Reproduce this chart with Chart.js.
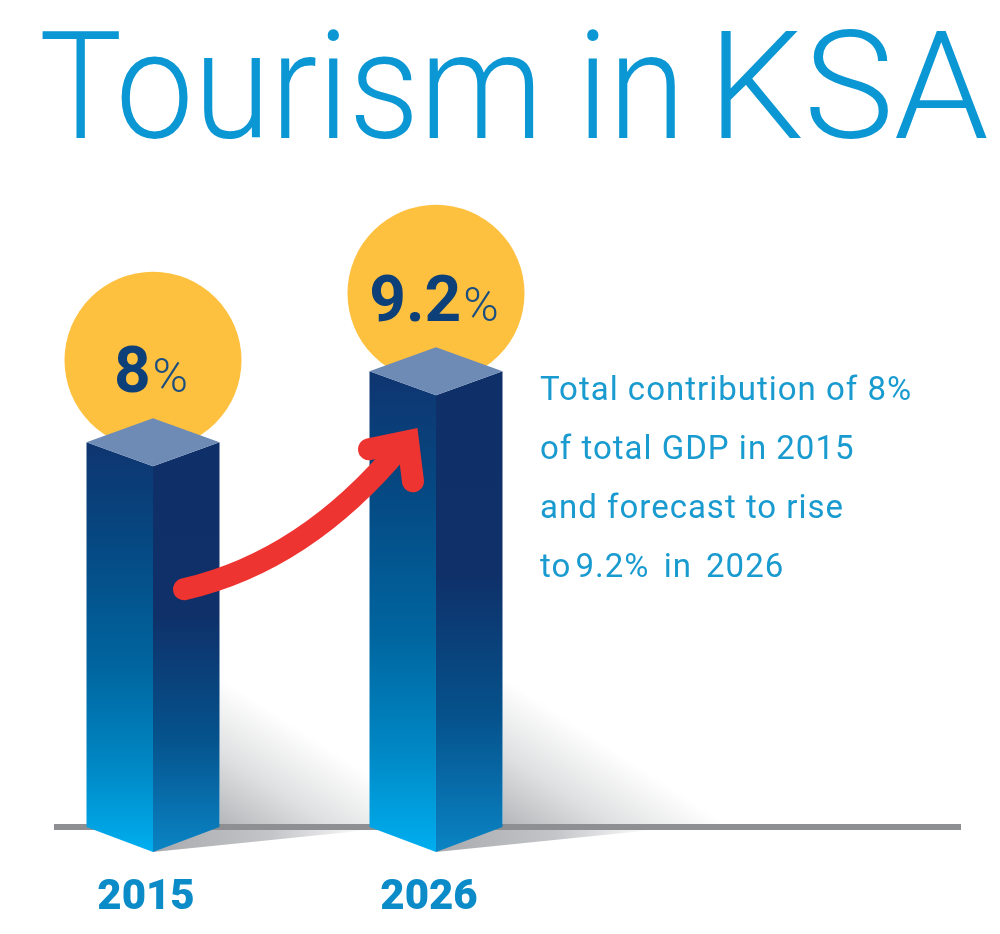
<!DOCTYPE html>
<html>
<head>
<meta charset="utf-8">
<title>Tourism in KSA</title>
<script src="https://cdn.jsdelivr.net/npm/chart.js@4/dist/chart.umd.min.js"></script>
<style>
    html, body { margin: 0; background: #fff; }
    #wrap { position: relative; width: 1000px; height: 934px; overflow: hidden; }
    #chart { position: absolute; left: 0; top: 0; }
    #title {
        position: absolute; left: 39px; top: -3px; white-space: nowrap;
        font: 300 150px/1.2 Roboto, sans-serif; color: #0b97d3;
        transform: scaleX(0.93); transform-origin: left top;
    }
    #title .in { word-spacing: -12px; }
    #title .ksa { display: inline-block; transform: scaleX(1.09); transform-origin: left top; }
    .note {
        position: absolute; left: 540px; white-space: nowrap;
        font: 400 33px/1.2 Roboto, sans-serif; color: #1a9bd0; letter-spacing: 1px;
    }
</style>
</head>
<body>
<div id="wrap">
    <canvas id="chart" width="1000" height="934"></canvas>
    <div id="title">Tourism <span class="in">in </span><span class="ksa">KSA</span></div>
    <div class="note" style="top:369px">Total contribution of 8%</div>
    <div class="note" style="top:428px">of total GDP in 2015</div>
    <div class="note" style="top:487px">and forecast to rise</div>
    <div class="note" style="top:546px"><span style="word-spacing:-5px">to 9.2%</span><span style="word-spacing:5px"> in 2026</span></div>
</div>
<script>
const years = ['2015', '2026'];
const gdpShare = [8, 9.2];
const valueLabels = ['8', '9.2'];

// ── 3D-Look ────────────────────────────────────────────────────────────────

function poly(ctx, pts, fill) {
    ctx.beginPath();
    pts.forEach(([x, y], i) => (i ? ctx.lineTo(x, y) : ctx.moveTo(x, y)));
    ctx.closePath();
    ctx.fillStyle = fill;
    ctx.fill();
}

function vGrad(ctx, y0, y1, stops) {
    const g = ctx.createLinearGradient(0, y0, 0, y1);
    stops.forEach(([at, c]) => g.addColorStop(at, c));
    return g;
}

const DEPTH = 24;
const circleLift = [82, 78];

const backdrop = {
    id: 'backdrop',
    beforeDatasetsDraw(chart) {
        const ctx = chart.ctx;
        const bars = chart.getDatasetMeta(0).data;
        const axisY = chart.scales.x.top;

        ctx.save();
        // Kreise hinter den Saeulen
        bars.forEach((b, i) => {
            ctx.beginPath();
            ctx.arc(b.x, b.y - circleLift[i], 88.5, 0, Math.PI * 2);
            ctx.fillStyle = '#fec03f';
            ctx.fill();
        });

        // Schatten rechts der Saeulen
        bars.forEach(b => {
            const r = b.x + b.width / 2;
            const g = ctx.createLinearGradient(r, axisY, r + 69, axisY - 105);
            g.addColorStop(0, '#b4b5b8');
            g.addColorStop(0.5, '#dfe0e1');
            g.addColorStop(1, '#ffffff');
            poly(ctx, [[r, axisY - 150], [r + 225, axisY - 3], [r, axisY]], g);
        });

        // Grundlinie
        ctx.fillStyle = '#8e8f92';
        ctx.fillRect(54, axisY - 3, 907, 6);

        // Schatten unter der Linie
        bars.forEach(b => {
            const r = b.x + b.width / 2;
            const g = ctx.createLinearGradient(b.x, 0, r + 150, 0);
            g.addColorStop(0, '#a9aaae');
            g.addColorStop(0.55, '#c4c5c8');
            g.addColorStop(1, '#ffffff');
            poly(ctx, [[b.x, axisY + DEPTH + 1], [b.x, axisY + 3], [r + 150, axisY + 3]], g);
        });
        ctx.restore();
    },
};

const columns = {
    id: 'columns',
    afterDatasetsDraw(chart) {
        const ctx = chart.ctx;
        const bars = chart.getDatasetMeta(0).data;

        ctx.save();
        bars.forEach((b, i) => {
            const l = b.x - b.width / 2;
            const r = b.x + b.width / 2;
            const top = b.y;
            const base = b.base;

            poly(ctx, [[l, top], [b.x, top + DEPTH], [b.x, base + DEPTH + 1], [l, base]],
                vGrad(ctx, top, base + DEPTH, [
                    [0, '#0f3570'], [0.22, '#064680'], [0.55, '#00659f'],
                    [0.8, '#0089c6'], [1, '#00aeef'],
                ]));
            poly(ctx, [[b.x, top + DEPTH], [r, top], [r, base], [b.x, base + DEPTH + 1]],
                vGrad(ctx, top, base + DEPTH, [
                    [0, '#0f2f69'], [0.42, '#0f3069'], [0.72, '#05528c'], [1, '#0a84c4'],
                ]));
            poly(ctx, [[l, top], [b.x, top - DEPTH], [r, top], [b.x, top + DEPTH]], '#6e8bb6');

            // Wert im Kreis
            const bold = '700 64px Roboto, sans-serif';
            const thin = '300 48px Roboto, sans-serif';
            ctx.textBaseline = 'alphabetic';
            ctx.textAlign = 'left';
            ctx.font = bold;
            const w1 = ctx.measureText(valueLabels[i]).width;
            ctx.font = thin;
            const w2 = ctx.measureText('%').width;
            const start = b.x - 2 - (w1 + w2 + 2) / 2;
            ctx.font = bold;
            ctx.fillStyle = '#0d3f78';
            ctx.fillText(valueLabels[i], start, top - 50);
            ctx.font = thin;
            ctx.fillStyle = '#1c4f7f';
            ctx.fillText('%', start + w1 + 2, top - 50);
        });

        // Roter Pfeil von Saeule zu Saeule
        const a = bars[0];
        const c = bars[1];
        ctx.strokeStyle = '#ee3430';
        ctx.lineWidth = 22;
        ctx.lineCap = 'round';
        ctx.lineJoin = 'miter';
        ctx.beginPath();
        ctx.moveTo(a.x + 31, a.y + 147);
        ctx.quadraticCurveTo(c.x - 130, c.y + 190, c.x - 35, c.y + 75);
        ctx.stroke();
        ctx.beginPath();
        ctx.moveTo(c.x - 67, c.y + 78);
        ctx.lineTo(c.x - 28, c.y + 70);
        ctx.lineTo(c.x - 23, c.y + 110);
        ctx.stroke();
        ctx.restore();
    },
};

// ── Chart ──────────────────────────────────────────────────────────────────

new Chart(document.getElementById('chart'), {
    type: 'bar',
    data: {
        labels: years,
        datasets: [{
            data: gdpShare,
            base: 1.5,
            backgroundColor: 'rgba(0,0,0,0)',
            barThickness: 133,
        }],
    },
    options: {
        responsive: false,
        animation: false,
        layout: { padding: { left: 11.5, right: 422.5, top: 28, bottom: 0 } },
        plugins: {
            legend: { display: false },
            tooltip: { enabled: false },
        },
        scales: {
            x: {
                grid: { display: false },
                border: { display: false },
                afterFit(scale) { scale.height = 107; },
                ticks: {
                    padding: 38,
                    labelOffset: -7,
                    color: '#0b8bc7',
                    font: { family: 'Roboto, sans-serif', size: 42, weight: '900' },
                },
            },
            y: { display: false, min: 1.5, max: 15 },
        },
    },
    plugins: [backdrop, columns],
});
</script>
</body>
</html>
